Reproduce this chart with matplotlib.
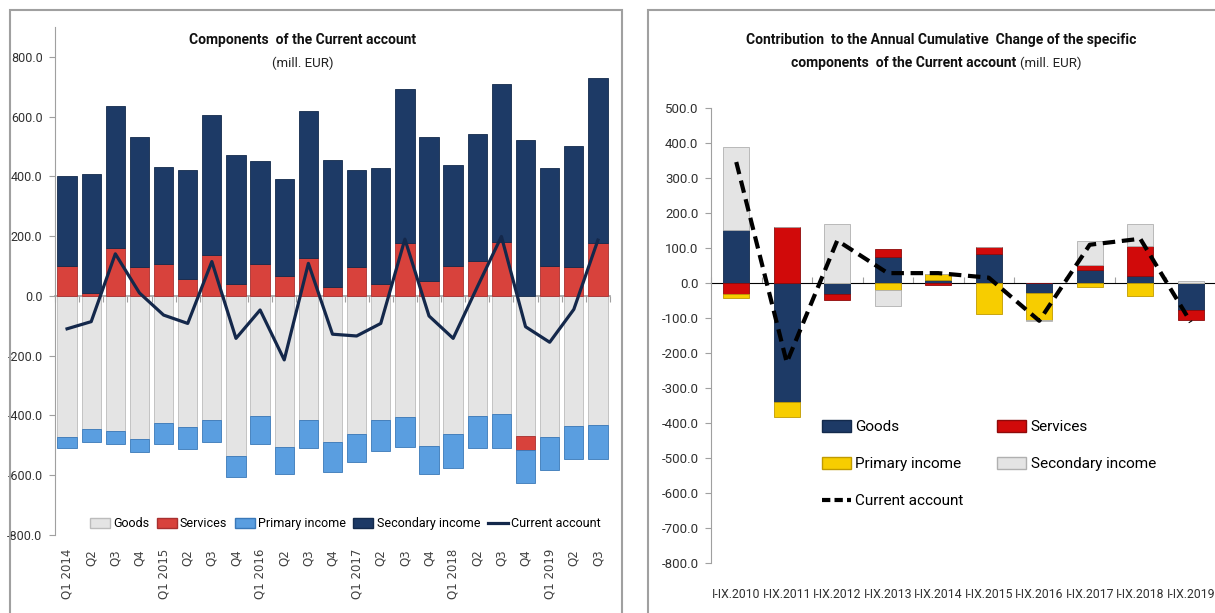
import numpy as np
import matplotlib
matplotlib.use("Agg")
import matplotlib.pyplot as plt
from matplotlib.patches import Rectangle, Patch
from matplotlib.lines import Line2D
import logging
logging.getLogger('matplotlib.font_manager').setLevel(logging.ERROR)

plt.rcParams['axes.unicode_minus'] = False
NARROW = ['DejaVu Sans Condensed', 'Liberation Sans Narrow', 'Roboto', 'DejaVu Sans']

# ---------------- data: left chart (quarterly, mill. EUR) ----------------
quarters = ['Q1 2014', 'Q2', 'Q3', 'Q4', 'Q1 2015', 'Q2', 'Q3', 'Q4',
            'Q1 2016', 'Q2', 'Q3', 'Q4', 'Q1 2017', 'Q2', 'Q3', 'Q4',
            'Q1 2018', 'Q2', 'Q3', 'Q4', 'Q1 2019', 'Q2', 'Q3']
goods_q = [-471, -445, -451, -480, -426, -440, -415, -534, -401, -504, -415, -490,
           -461, -415, -404, -501, -461, -401, -396, -469, -471, -435, -431]
services_q = [101, 9, 162, 97, 106, 56, 136, 40, 106, 66, 126, 30,
              97, 40, 177, 50, 101, 116, 182, -46, 101, 97, 177]
primary_q = [-39, -43, -45, -41, -70, -72, -73, -73, -95, -93, -95, -98,
             -96, -103, -103, -96, -116, -109, -114, -112, -111, -112, -116]
secondary_q = [301, 398, 472, 436, 327, 367, 468, 432, 347, 326, 493, 426,
               326, 387, 517, 483, 336, 426, 526, 523, 326, 406, 553]
current_q = [-110, -86, 141, 10, -64, -92, 115, -142, -47, -214, 109, -128,
             -134, -92, 190, -67, -142, 30, 199, -103, -155, -45, 187]

# ---------------- data: right chart (I-IX cumulative change) ----------------
periods = ['I-IX.2010', 'I-IX.2011', 'I-IX.2012', 'I-IX.2013', 'I-IX.2014',
           'I-IX.2015', 'I-IX.2016', 'I-IX.2017', 'I-IX.2018', 'I-IX.2019']
goods_y = [151, -339, -33, 74, 8, 83, -28, 36, 19, -78]
services_y = [-33, 161, -17, 22, -7, 19, 0, 14, 87, -29]
primary_y = [-10, -43, 0, -20, 18, -89, -78, -11, -37, 0]
secondary_y = [237, 0, 169, -45, 0, 0, -4, 70, 62, 5]
current_y = [345, -227, 121, 28, 28, 15, -108, 109, 126, -112]


def stacked(ax, x, series, colors, edges, width, labels):
    pos = np.zeros(len(x))
    neg = np.zeros(len(x))
    for vals, c, ec, lab in zip(series, colors, edges, labels):
        v = np.asarray(vals, dtype=float)
        bottom = np.where(v >= 0, pos, neg)
        ax.bar(x, v, width, bottom=bottom, color=c, edgecolor=ec,
               linewidth=0.6, label=lab, zorder=2)
        pos = pos + np.where(v > 0, v, 0)
        neg = neg + np.where(v < 0, v, 0)


fig = plt.figure(figsize=(12.15, 6.13), dpi=100)

# panel frames
fig.patches.append(Rectangle((10 / 1215, -0.05), 612 / 1215, 0.05 + (603 / 613),
                             transform=fig.transFigure, fill=False,
                             edgecolor='#a0a0a0', linewidth=1.5))
fig.patches.append(Rectangle((648 / 1215, -0.05), 600 / 1215, 0.05 + (603 / 613),
                             transform=fig.transFigure, fill=False,
                             edgecolor='#a0a0a0', linewidth=1.5))

# ---------------- left chart ----------------
ax1 = fig.add_axes([55 / 1215, 78 / 613, 555 / 1215, 508 / 613])
xq = np.arange(len(quarters))
cols_l = ['#e4e4e4', '#d8423c', '#5a9ee0', '#1d3a66']
edges_l = ['#bcbcbc', '#a83030', '#3a78b8', '#132a4c']
labels = ['Goods', 'Services', 'Primary income', 'Secondary income']
stacked(ax1, xq, [goods_q, services_q, primary_q, secondary_q],
        cols_l, edges_l, 0.8, labels)
ax1.plot(xq, current_q, color='#14284b', linewidth=2.3, zorder=3,
         label='Current account')
ax1.set_xlim(-0.5, len(quarters) - 0.5)
ax1.set_ylim(-800, 900)
ax1.set_yticks(np.arange(-800, 801, 200))
ax1.set_yticklabels([f'{v:.1f}' for v in np.arange(-800, 801, 200)],
                    fontfamily=NARROW, fontsize=9, color='#303030')
ax1.set_xticks(xq)
ax1.set_xticklabels(quarters, rotation=90, fontsize=8.5, color='#404040',
                    va='top', ha='center')
ax1.tick_params(axis='x', length=0, pad=10)
ax1.tick_params(axis='y', length=4, color='#a0a0a0', pad=5)
for s in ['top', 'right', 'bottom']:
    ax1.spines[s].set_visible(False)
ax1.spines['left'].set_color('#a0a0a0')
sec1 = ax1.secondary_xaxis(800 / 1700)
sec1.set_xticks(np.arange(-0.5, len(quarters), 1.0))
sec1.set_xticklabels([])
sec1.tick_params(length=4, color='#a0a0a0', direction='out')
sec1.spines['bottom'].set_color('#a0a0a0')
sec1.spines['bottom'].set_linewidth(1.2)

h = [Patch(facecolor=c, edgecolor=e) for c, e in zip(cols_l, edges_l)]
h.append(Line2D([0], [0], color='#14284b', linewidth=2.3))
ax1.legend(h, labels + ['Current account'], loc='center',
           bbox_to_anchor=(0.523, 0.022), ncol=5, frameon=False,
           prop={'family': NARROW, 'size': 9}, handlelength=1.6,
           handleheight=0.9, handletextpad=0.25, columnspacing=0.6)

fig.text(303 / 1215, 1 - 40 / 613, 'Components  of the Current account',
         ha='center', va='center', fontsize=10, fontweight='bold',
         family=NARROW, color='#111111')
fig.text(303 / 1215, 1 - 63 / 613, '(mill. EUR)', ha='center', va='center',
         fontsize=9.5, family=NARROW, color='#222222')

# ---------------- right chart ----------------
ax2 = fig.add_axes([711 / 1215, 49.7 / 613, 505 / 1215, 455.6 / 613])
xy = np.arange(len(periods))
cols_r = ['#1d3a66', '#d10a0a', '#f7cd00', '#e4e4e4']
edges_r = ['#132a4c', '#8e0a0a', '#c09a00', '#b0b0b0']
stacked(ax2, xy, [goods_y, services_y, primary_y, secondary_y],
        cols_r, edges_r, 0.52, labels)
ax2.plot(xy, current_y, color='black', linewidth=3,
         linestyle=(0, (3, 1.6)), zorder=3, label='Current account')
ax2.set_xlim(-0.5, len(periods) - 0.5)
ax2.set_ylim(-800, 500)
ax2.set_yticks(np.arange(-800, 501, 100))
ax2.set_yticklabels([f'{v:.1f}' for v in np.arange(-800, 501, 100)],
                    fontfamily=NARROW, fontsize=9.5, color='#303030')
ax2.set_xticks(xy)
ax2.set_xticklabels(periods, fontfamily=NARROW, fontsize=8.8, color='#303030')
ax2.tick_params(axis='x', length=0, pad=18)
ax2.tick_params(axis='y', length=4, color='#a0a0a0', pad=5)
for s in ['top', 'right', 'bottom']:
    ax2.spines[s].set_visible(False)
ax2.spines['left'].set_color('#a0a0a0')
sec2 = ax2.secondary_xaxis(800 / 1300)
sec2.set_xticks(np.arange(-0.5, len(periods), 1.0))
sec2.set_xticklabels([])
sec2.tick_params(length=4, color='#a0a0a0', direction='out')
sec2.spines['bottom'].set_color('#a0a0a0')
sec2.spines['bottom'].set_linewidth(1.2)

hr = [Patch(facecolor=c, edgecolor=e) for c, e in zip(cols_r, edges_r)]
ca_h = Line2D([0], [0], color='black', linewidth=3, linestyle=(0, (2, 1)))
order_h = [hr[0], hr[2], ca_h, hr[1], hr[3]]
order_l = ['Goods', 'Primary income', 'Current account', 'Services',
           'Secondary income']
ax2.legend(order_h, order_l, loc='center', bbox_to_anchor=(0.55, 0.218),
           ncol=2, frameon=False, prop={'family': NARROW, 'size': 11},
           handlelength=1.9, handleheight=0.8, handletextpad=0.3,
           labelspacing=1.5, columnspacing=2.2)

fig.text(941 / 1215, 1 - 40 / 613,
         'Contribution  to the Annual Cumulative  Change of the specific',
         ha='center', va='center', fontsize=10, fontweight='bold',
         family=NARROW, color='#111111')
fig.text(1016 / 1215, 1 - 63 / 613, 'components  of the Current account',
         ha='right', va='center', fontsize=10, fontweight='bold',
         family=NARROW, color='#111111')
fig.text(1020 / 1215, 1 - 63 / 613, '(mill. EUR)', ha='left', va='center',
         fontsize=9.5, family=NARROW, color='#222222')

fig.savefig('out.png', dpi=100)
